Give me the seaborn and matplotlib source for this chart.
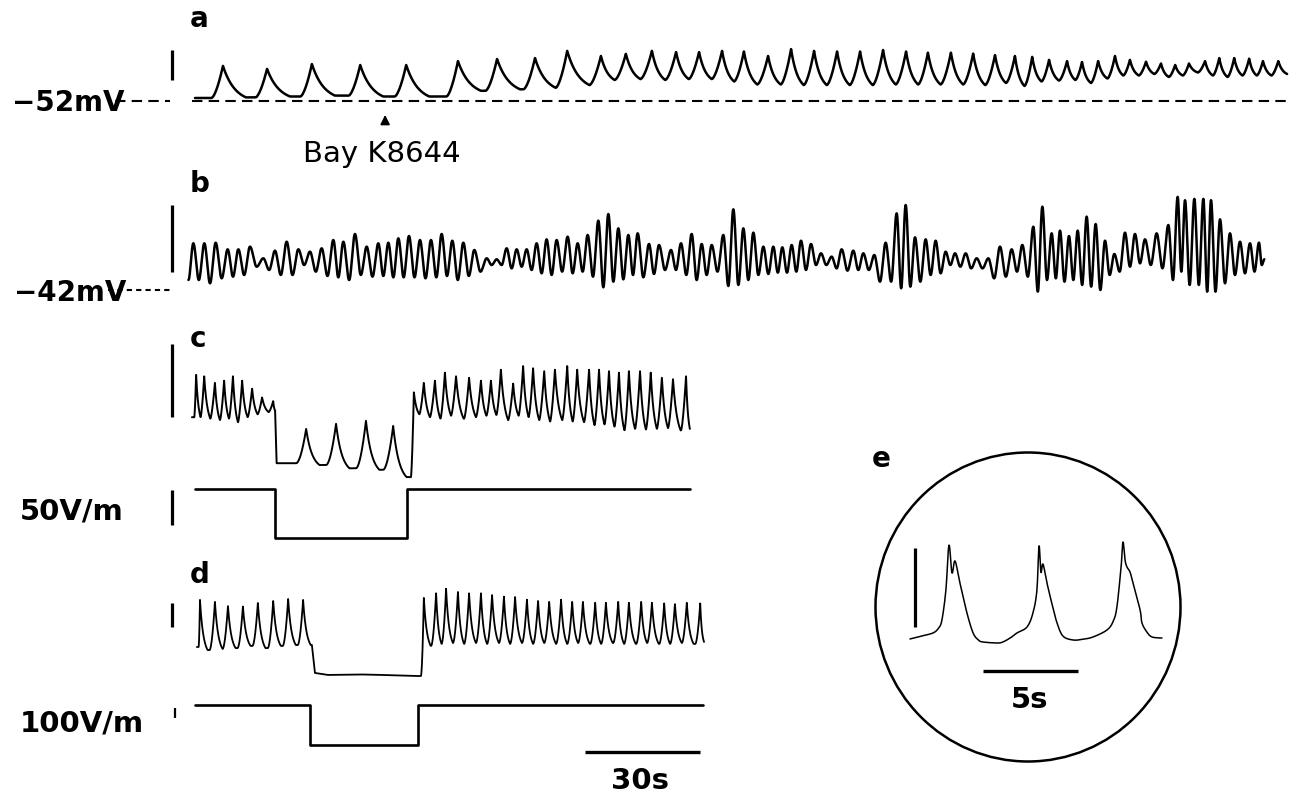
import numpy as np
import matplotlib
matplotlib.use("Agg")
import matplotlib.pyplot as plt
from matplotlib.patches import Ellipse
import seaborn as sns

sns.set_theme(style="white")
plt.rcParams['font.family'] = ['DejaVu Sans']

# ------------------------------------------------------------------ data
# trace a : membrane potential, mV above the -52 mV reference
A_REF = -52.0
a_start_t, a_start_dep, a_end_t = 1.3, 1.0, 286.2
a_spike_t = [8.6, 20.1, 31.8, 44.4, 56.4, 69.9, 80.1, 90.0, 98.4, 107.2, 113.7, 120.5,
             126.8, 132.8, 138.8, 144.5, 150.8, 156.8, 162.8, 168.8, 174.8, 180.8, 186.8,
             192.5, 198.5, 204.3, 210.0, 215.2, 219.7, 224.1, 228.8, 232.7, 236.9, 241.3,
             245.2, 249.4, 253.3, 257.0, 260.6, 264.8, 268.5, 272.4, 276.3, 279.9, 283.9]
a_peak_dep = [11.7, 10.7, 12.3, 12.0, 12.0, 13.3, 14.0, 14.3, 16.7, 15.0, 15.7, 16.7,
              16.3, 16.3, 16.7, 16.5, 15.0, 17.3, 16.7, 16.5, 16.5, 17.0, 16.5, 16.1,
              16.1, 15.8, 15.3, 15.0, 14.7, 13.7, 13.3, 13.0, 13.3, 15.0, 13.7, 13.1,
              12.5, 12.0, 12.5, 13.3, 14.3, 14.3, 14.1, 13.3, 13.3]
a_trough_dep = [1.2, 1.5, 1.8, 1.5, 1.5, 3.4, 3.9, 4.4, 5.3, 7.0, 7.3, 7.0, 7.3, 7.3,
                6.5, 5.5, 5.5, 5.3, 5.3, 5.3, 5.3, 5.5, 5.5, 5.5, 5.5, 5.3, 6.0, 5.0,
                6.5, 6.8, 7.0, 6.0, 7.5, 8.5, 8.5, 9.0, 8.0, 8.5, 9.5, 8.5, 8.0, 8.5,
                8.5, 8.5, 9.0]
bay_k_t = 50.9

# trace b : mV above the -42 mV reference
B_REF = -42.0
b_start_t, b_start_dep, b_end_t, b_end_dep = -0.4, 1.5, 280.3, 4.6
b_peak_t = [0.87, 3.74, 6.70, 9.83, 12.61, 15.65, 19.13, 22.17, 25.22, 28.26,
            31.30, 34.35, 37.39, 40.0, 43.04, 46.09, 49.13, 51.74, 54.35, 57.13,
            60.0, 62.87, 65.65, 68.43, 71.30, 74.17, 77.39, 80.0, 82.61, 85.22,
            87.83, 90.43, 93.04, 95.65, 98.52, 101.13, 103.74, 106.52, 109.13, 111.74,
            114.35, 116.78, 119.74, 122.35, 125.48, 128.09, 130.87, 133.48, 136.09, 139.13,
            141.74, 144.35, 146.96, 149.57, 152.17, 154.52, 156.96, 159.39, 162.0, 164.61,
            167.39, 170.0, 173.04, 175.65, 178.52, 181.48, 184.35, 186.7, 189.13, 191.91,
            194.52, 197.13, 199.57, 202.35, 205.22, 208.26, 211.3, 214.35, 217.13, 220.0,
            222.35, 224.78, 226.96, 229.3, 231.57, 233.91, 236.26, 238.7, 241.13, 243.91,
            246.52, 249.13, 252.17, 255.22, 257.65, 259.57, 262.0, 264.35, 266.35, 268.7,
            271.3, 273.91, 276.52, 278.87]
b_peak_dep = [6.97, 6.97, 7.06, 6.07, 6.07, 6.47, 4.73, 5.87, 7.21, 6.07,
              5.72, 6.22, 7.46, 7.21, 8.36, 6.47, 6.97, 7.06, 7.71, 8.06,
              7.46, 7.46, 8.36, 7.36, 7.06, 5.97, 4.73, 4.58, 6.22, 6.07,
              6.07, 6.97, 7.56, 7.46, 7.96, 6.97, 8.21, 10.35, 11.34, 9.20,
              8.21, 8.46, 6.87, 6.72, 5.97, 6.97, 8.36, 6.87, 6.72, 8.21,
              12.04, 9.20, 8.56, 6.47, 6.47, 6.37, 6.72, 7.36, 6.87, 5.47,
              4.98, 6.07, 5.87, 5.47, 5.22, 7.06, 11.44, 12.69, 7.86, 7.56,
              7.36, 5.72, 5.47, 5.47, 4.73, 4.73, 6.47, 6.07, 6.72, 9.45,
              12.44, 8.46, 8.86, 8.06, 8.86, 10.95, 9.85, 7.36, 5.37, 8.56,
              8.36, 7.56, 8.46, 9.70, 13.9, 13.4, 13.6, 13.6, 13.4, 10.55,
              8.46, 7.21, 6.97, 7.06]
b_trough_dep = [1.49, 1.0, 1.74, 1.99, 2.24, 3.48, 2.99, 2.24, 2.24, 3.73,
                2.74, 2.09, 1.89, 1.49, 2.24, 1.99, 2.09, 1.89, 1.89, 1.89,
                1.74, 1.89, 2.09, 1.49, 2.09, 2.74, 3.73, 3.73, 3.23, 3.48,
                2.99, 2.49, 2.24, 2.74, 2.49, 2.74, 1.99, 0.40, 1.24, 1.59,
                2.24, 1.89, 2.39, 2.99, 2.99, 2.24, 1.49, 2.24, 2.74, 0.60,
                0.75, 1.49, 2.24, 2.39, 2.59, 2.59, 2.74, 2.99, 3.73, 3.73,
                3.23, 2.89, 2.99, 2.99, 1.24, 1.24, 0.25, 0.50, 1.24, 2.24,
                2.49, 3.73, 3.48, 3.23, 3.23, 1.74, 1.99, 2.74, 1.99, -0.25,
                1.49, 1.74, 1.24, 1.49, 0.75, 0.50, 0.0, 2.24, 2.74, 3.48,
                3.98, 3.73, 3.23, 1.49, 2.74, 0.75, 0.75, -0.25, -0.25, 1.0,
                2.24, 2.49, 2.74, 3.73]

# trace c : relative membrane potential (mV) with field step (V/m)
c_field_t = [1.3, 22.2, 56.6, 130.4]
c_field_v = [0.0, -70.0, 0.0, 0.0]
c_pre_start = (0.5, 8.6)
c_pre_t = [1.6, 3.7, 6.5, 8.9, 11.2, 13.6, 16.2, 18.8, 21.7]
c_pre_peak = [14.4, 14.2, 13.3, 13.6, 14.2, 13.6, 12.5, 11.3, 10.8]
c_pre_trough = [8.6, 8.4, 8.2, 8.4, 7.9, 8.6, 9.0, 9.3, 9.5]
c_hyp_start = (22.6, 2.3)
c_hyp_t = [30.3, 38.1, 45.9, 53.0]
c_hyp_peak = [7.0, 7.7, 8.1, 7.4]
c_hyp_trough = [2.05, 1.6, 1.4, 0.4]
c_post_start = (56.7, 0.4)
c_post_end_t = 130.4
c_post_t = [58.4, 61.0, 63.9, 66.5, 69.4, 72.8, 75.9, 78.5, 81.1, 84.3, 86.9, 89.5, 92.4,
            95.2, 98.4, 101.0, 104.1, 106.7, 109.3, 111.9, 114.5, 117.4, 120.2, 123.1,
            126.0, 129.4]
c_post_peak = [12.0, 13.3, 13.6, 14.7, 14.2, 14.0, 13.6, 13.6, 15.1, 13.2, 15.6, 15.3, 14.9,
               15.1, 15.6, 15.1, 15.1, 15.1, 14.9, 14.7, 14.9, 14.9, 14.7, 14.0, 13.8, 14.2]
c_post_trough = [9.0, 8.6, 8.4, 8.8, 8.4, 8.6, 8.8, 8.9, 8.2, 8.8, 8.6, 8.2, 8.0, 8.2, 8.0,
                 7.9, 7.5, 7.6, 7.3, 6.8, 7.0, 6.9, 7.0, 7.1, 6.8, 7.0]

# trace d
d_field_t = [1.3, 31.3, 59.5, 133.7]
d_field_v = [0.0, -400.0, 0.0, 0.0]
d_pre_start = (1.8, 15.0)
d_pre_t = [2.6, 6.5, 9.9, 13.8, 17.7, 21.7, 25.6, 29.5]
d_pre_peak = [36.4, 35.5, 33.6, 33.4, 35.0, 35.9, 36.8, 36.4]
d_pre_trough = [13.6, 14.1, 14.5, 15.5, 14.5, 15.5, 15.9, 15.9]
d_pre_end_t = 31.8
d_hyp_t = [32.6, 36.0, 45.0, 50.0, 58.8]
d_hyp_v = [3.2, 2.3, 2.5, 2.3, 1.8]
d_post_start = (59.3, 1.8)
d_post_end_t = 134.1
d_post_t = [61.0, 64.2, 66.8, 69.9, 72.8, 75.9, 78.8, 81.9, 84.8, 87.9, 90.8, 93.7, 96.8,
            99.7, 102.5, 105.7, 108.5, 111.7, 114.5, 117.7, 120.5, 123.7, 126.5, 129.6, 133.1]
d_post_peak = [37.3, 39.4, 41.5, 40.0, 39.4, 39.4, 38.6, 37.9, 37.7, 36.5, 35.9, 35.5, 36.5,
               35.5, 35.5, 35.1, 35.1, 35.5, 35.1, 35.5, 35.1, 34.8, 34.5, 35.1, 34.8]
d_post_trough = [15.5, 16.4, 16.8, 16.4, 16.8, 16.4, 16.8, 16.4, 16.8, 16.4, 16.8, 16.4, 16.4,
                 16.8, 16.4, 16.4, 16.8, 16.4, 16.4, 16.8, 16.4, 16.4, 16.8, 16.4, 17.3]

# trace e (expanded time base)
e_t = [0.0, 0.6, 1.21, 1.5, 1.68, 1.89, 2.05, 2.21, 2.37, 2.63, 3.0, 3.32, 3.6, 3.84, 4.58,
       4.89, 5.3, 5.63, 6.16, 6.47, 6.68, 6.79, 6.89, 7.0, 7.21, 7.5, 7.74, 8.05, 8.58, 9.1,
       9.63, 10.37, 10.7, 10.89, 11.11, 11.21, 11.32, 11.42, 11.58, 11.74, 12.11, 12.21,
       12.47, 12.74, 13.26]
e_v = [0.13, 0.5, 0.89, 1.5, 2.53, 6.33, 12.0, 8.5, 10.0, 7.2, 3.4, 0.9, 0.0, -0.25,
       -0.38, -0.25, 0.3, 0.89, 1.65, 3.42, 6.33, 11.9, 8.6, 9.6, 7.2, 4.3, 2.15, 0.5, 0.0,
       0.1, 0.38, 1.27, 2.4, 4.18, 9.24, 12.4, 10.1, 9.24, 8.6, 7.2, 3.8, 2.15, 1.0, 0.38,
       0.25]

# ------------------------------------------------------------------ layout
W, H, DPI = 1298, 793, 100
PX_PER_S = 115 / 30.0
T0_PX = 190


def _decay(u, k):
    return (np.exp(-k * u) - np.exp(-k)) / (1 - np.exp(-k))


def spike_train(t0, v0, t1, spk_t, peaks, troughs, rise, dmax, p=1.6, k=2.0, n=60):
    T, V = [], []
    ta, va, floor = t0, v0, v0
    for tk, pk, trk in list(zip(spk_t, peaks, troughs)) + [(None, None, None)]:
        tend = t1 if tk is None else tk
        r = 0.0 if tk is None else min(rise, 0.45 * (tend - ta))
        D = max(min(tend - r - ta, dmax), 1e-6)
        tt = np.linspace(ta, tend, n)
        u = np.clip((tt - ta) / D, 0, 1)
        seg = floor + (va - floor) * _decay(u, k)
        if tk is not None:
            s = np.clip((tt - (tend - r)) / r, 0, 1)
            seg = seg + (pk - floor) * s ** p
            T.append(tt[:-1]); V.append(seg[:-1])
            ta, va, floor = tk, pk, trk
        else:
            T.append(tt); V.append(seg)
    return np.concatenate(T), np.concatenate(V)


def oscillation(t0, v0, t1, v1, pk_t, pk_v, tr_v, n=16):
    kt, kv = [t0], [v0]
    for i in range(len(pk_t)):
        kt.append(pk_t[i]); kv.append(pk_v[i])
        nxt = pk_t[i + 1] if i + 1 < len(pk_t) else t1
        kt.append(0.5 * (pk_t[i] + nxt)); kv.append(tr_v[i])
    kt.append(t1); kv.append(v1)
    T, V = [], []
    for i in range(len(kt) - 1):
        s = np.linspace(0, 1, n)[:-1]
        T.append(kt[i] + (kt[i + 1] - kt[i]) * s)
        V.append(kv[i] + (kv[i + 1] - kv[i]) * (1 - np.cos(np.pi * s)) / 2)
    return np.concatenate(T), np.concatenate(V)


def catmull_rom(x, y, n=10):
    x = np.asarray(x, float); y = np.asarray(y, float)
    P = np.column_stack([x, y])
    P = np.vstack([P[0], P, P[-1]])
    out = []
    for i in range(1, len(P) - 2):
        p0, p1, p2, p3 = P[i - 1], P[i], P[i + 1], P[i + 2]
        s = np.linspace(0, 1, n)[:-1][:, None]
        out.append(0.5 * ((2 * p1) + (-p0 + p2) * s + (2 * p0 - 5 * p1 + 4 * p2 - p3) * s ** 2
                          + (-p0 + 3 * p1 - 3 * p2 + p3) * s ** 3))
    out.append(P[-2][None, :])
    out = np.vstack(out)
    return out[:, 0], out[:, 1]


fig = plt.figure(figsize=(W / DPI, H / DPI), dpi=DPI)
ann = fig.add_axes([0, 0, 1, 1])
ann.set_xlim(0, W); ann.set_ylim(H, 0); ann.axis('off')


def trace_axes(top, bot, ref_px, ref_val, gain, left=0, right=W, t0px=T0_PX, pxs=PX_PER_S):
    ax = fig.add_axes([left / W, 1 - bot / H, (right - left) / W, (bot - top) / H])
    ax.set_xlim((left - t0px) / pxs, (right - t0px) / pxs)
    ax.set_ylim(ref_val + (ref_px - bot) / gain, ref_val + (ref_px - top) / gain)
    ax.axis('off')
    return ax


def draw(ax, t, v, lw):
    sns.lineplot(x=t, y=v, ax=ax, color='black', linewidth=lw, estimator=None,
                 sort=False, legend=False)


BAR_T = (172 - T0_PX) / PX_PER_S
BAR_LW = 2.3
KW = dict(color='black', solid_capstyle='butt')

# ---- a
ax_a = trace_axes(25, 135, 101, A_REF, 3.0)
ta, va = spike_train(a_start_t, a_start_dep, a_end_t, a_spike_t, a_peak_dep, a_trough_dep,
                     rise=3.0, dmax=6.0, p=1.6, k=1.9)
ax_a.plot([-19.6, -5.2], [A_REF, A_REF], color='black', lw=1.5, dashes=(5, 3))
ax_a.plot([0.5, 287.5], [A_REF, A_REF], color='black', lw=1.5, dashes=(5, 3))
draw(ax_a, ta, A_REF + va, 1.8)
ax_a.plot([BAR_T, BAR_T], [A_REF + 7, A_REF + 17], lw=BAR_LW, **KW)
ax_a.annotate('', xy=(bay_k_t, A_REF - 3.7), xytext=(bay_k_t, A_REF - 8.3),
              arrowprops=dict(arrowstyle='-|>', color='black', lw=1.2, mutation_scale=14))

# ---- b
ax_b = trace_axes(190, 315, 290, B_REF, 6.7)
tb, vb = oscillation(b_start_t, b_start_dep, b_end_t, b_end_dep, b_peak_t, b_peak_dep,
                     b_trough_dep)
draw(ax_b, tb, B_REF + vb, 1.8)
ax_b.plot([-21.4, -5.2], [B_REF, B_REF], color='black', lw=1.5, dashes=(2.5, 2.0))
ax_b.plot([BAR_T, BAR_T], [B_REF + 2.7, B_REF + 12.7], lw=BAR_LW, **KW)

# ---- c
ax_c = trace_axes(330, 485, 480, 0.0, 7.3)
t1, v1 = spike_train(*c_pre_start, c_field_t[1], c_pre_t, c_pre_peak, c_pre_trough,
                     1.2, 2.0, p=1.5, k=1.8)
t2, v2 = spike_train(*c_hyp_start, c_field_t[2], c_hyp_t, c_hyp_peak, c_hyp_trough,
                     2.6, 3.5, p=1.8, k=2.2)
t3, v3 = spike_train(*c_post_start, c_post_end_t, c_post_t, c_post_peak, c_post_trough,
                     1.3, 2.0, p=1.5, k=1.8)
draw(ax_c, np.concatenate([t1, t2, t3]), np.concatenate([v1, v2, v3]), 1.4)
ax_c.plot([BAR_T, BAR_T], [8.6, 18.6], lw=BAR_LW, **KW)

ax_cf = trace_axes(480, 560, 489, 0.0, 0.7)
sns.lineplot(x=c_field_t, y=c_field_v, ax=ax_cf, color='black', linewidth=1.9,
             drawstyle='steps-post', estimator=None, sort=False, legend=False)
ax_cf.plot([BAR_T, BAR_T], [-51, -1], lw=BAR_LW, **KW)

# ---- d
ax_d = trace_axes(575, 692, 680, 0.0, 2.2)
t1, v1 = spike_train(*d_pre_start, d_pre_end_t, d_pre_t, d_pre_peak, d_pre_trough,
                     1.4, 2.0, p=1.8, k=2.2)
t3, v3 = spike_train(*d_post_start, d_post_end_t, d_post_t, d_post_peak, d_post_trough,
                     1.3, 1.8, p=1.8, k=2.2)
draw(ax_d, np.concatenate([t1, d_hyp_t, t3]), np.concatenate([v1, d_hyp_v, v3]), 1.3)
ax_d.plot([BAR_T, BAR_T], [24, 35], lw=BAR_LW, **KW)

ax_df = trace_axes(692, 765, 705, 0.0, 0.1)
sns.lineplot(x=d_field_t, y=d_field_v, ax=ax_df, color='black', linewidth=1.9,
             drawstyle='steps-post', estimator=None, sort=False, legend=False)
ax_df.plot([(175 - T0_PX) / PX_PER_S] * 2, [-130, -30], lw=1.6, **KW)
ax_df.plot([103.1, 133.1], [-470, -470], lw=2.4, **KW)

# ---- e
ax_e = trace_axes(500, 730, 640, 0.0, 7.9, left=880, right=1185, t0px=910, pxs=19)
te, ve = catmull_rom(e_t, e_v)
draw(ax_e, te, ve, 1.1)
ax_e.plot([0.26, 0.26], [1.65, 11.65], lw=BAR_LW, **KW)
ax_e.plot([3.84, 8.84], [-3.9, -3.9], lw=2.4, **KW)
ann.add_patch(Ellipse((1028, 607), 305, 309, fill=False, lw=1.8, color='black'))

# ---- texts
LB = dict(fontweight='bold', color='black', va='baseline')
for s, x, y in [('a', 190, 27), ('b', 190, 192), ('c', 190, 347), ('d', 190, 583), ('e', 872, 467)]:
    ann.text(x, y, s, ha='left', fontsize=20, **LB)
ann.text(12, 111, '\u221252mV', ha='left', fontsize=20, **LB)
ann.text(14, 301, '\u221242mV', ha='left', fontsize=20, **LB)
ann.text(20, 519, '50V/m', ha='left', fontsize=21, **LB)
ann.text(20, 732, '100V/m', ha='left', fontsize=21, **LB)
ann.text(640, 789, '30s', ha='center', fontsize=21, **LB)
ann.text(1030, 708, '5s', ha='center', fontsize=21, **LB)
ann.text(382, 162, 'Bay K8644', ha='center', va='baseline', fontsize=21, color='black')

fig.savefig('out.png', dpi=DPI, facecolor='white')
